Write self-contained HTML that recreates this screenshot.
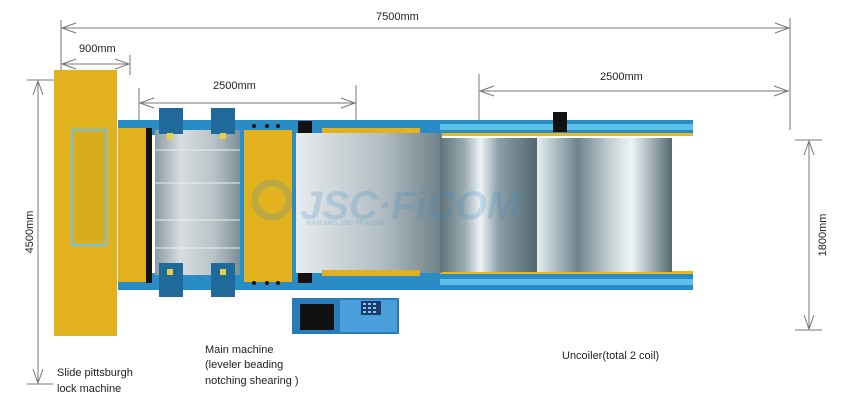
<!DOCTYPE html>
<html><head><meta charset="utf-8"><style>
html,body{margin:0;padding:0;background:#fff;}
svg{display:block;font-family:"Liberation Sans",sans-serif;}
</style></head><body>
<svg width="850" height="402" viewBox="0 0 850 402" xmlns="http://www.w3.org/2000/svg">
<defs>
<linearGradient id="lev" x1="0" x2="1" y1="0" y2="0">
<stop offset="0" stop-color="#8a9aa2"/><stop offset="0.3" stop-color="#d8dee0"/><stop offset="0.7" stop-color="#b8c2c6"/><stop offset="1" stop-color="#7e8e96"/></linearGradient>
<linearGradient id="plate" x1="0" x2="1" y1="0" y2="0">
<stop offset="0" stop-color="#e8ecee"/><stop offset="0.6" stop-color="#b0bcc2"/><stop offset="1" stop-color="#6e8088"/></linearGradient>
<linearGradient id="coil" x1="0" x2="1" y1="0" y2="0">
<stop offset="0" stop-color="#5e727a"/><stop offset="0.25" stop-color="#9aaab0"/><stop offset="0.42" stop-color="#eef4f6"/><stop offset="0.6" stop-color="#8da0a8"/><stop offset="1" stop-color="#52666e"/></linearGradient>
<linearGradient id="coil2" x1="0" x2="1" y1="0" y2="0">
<stop offset="0" stop-color="#e6eef0"/><stop offset="0.3" stop-color="#6e848c"/><stop offset="0.55" stop-color="#c6d2d6"/><stop offset="0.7" stop-color="#eef4f6"/><stop offset="1" stop-color="#566a72"/></linearGradient>
</defs>
<g stroke="#777" stroke-width="1" fill="none">
<line x1="61" y1="28" x2="790" y2="28"/><line x1="61" y1="20" x2="61" y2="75"/><line x1="790" y1="18" x2="790" y2="130"/>
<polyline points="76,23 62,28 76,33"/><polyline points="775,23 789,28 775,33"/>
<line x1="61" y1="64" x2="130" y2="64"/><line x1="130" y1="55" x2="130" y2="75"/>
<polyline points="76,59 62,64 76,69"/><polyline points="115,59 129,64 115,69"/>
<line x1="139" y1="103" x2="356" y2="103"/><line x1="139" y1="88" x2="139" y2="130"/><line x1="356" y1="85" x2="356" y2="128"/>
<polyline points="154,98 140,103 154,108"/><polyline points="341,98 355,103 341,108"/>
<line x1="479" y1="91" x2="789" y2="91"/><line x1="479" y1="74" x2="479" y2="130"/>
<polyline points="494,86 480,91 494,96"/><polyline points="774,86 788,91 774,96"/>
<line x1="38" y1="80" x2="38" y2="383"/><line x1="27" y1="80" x2="55" y2="80"/><line x1="27" y1="384" x2="53" y2="384"/>
<polyline points="33,95 38,81 43,95"/><polyline points="33,369 38,383 43,369"/>
<line x1="809" y1="140" x2="809" y2="330"/><line x1="795" y1="140" x2="822" y2="140"/><line x1="795" y1="330" x2="822" y2="330"/>
<polyline points="804,155 809,141 814,155"/><polyline points="804,315 809,329 814,315"/>
</g>
<g font-size="11" fill="#222">
<text x="376" y="20">7500mm</text>
<text x="79" y="52">900mm</text>
<text x="213" y="89">2500mm</text>
<text x="600" y="80">2500mm</text>
<text transform="translate(33,232) rotate(-90)" text-anchor="middle">4500mm</text>
<text transform="translate(826,235) rotate(-90)" text-anchor="middle">1800mm</text>
<text x="57" y="376">Slide  pittsburgh</text>
<text x="57" y="392">lock machine</text>
<text x="205" y="353">Main machine</text>
<text x="205" y="368">(leveler beading</text>
<text x="205" y="384">notching shearing )</text>
<text x="562" y="359">Uncoiler(total 2 coil)</text>
</g>
<rect x="118" y="120" width="575" height="15" fill="#2a8cc4"/>
<rect x="118" y="273" width="575" height="17" fill="#2a8cc4"/>
<rect x="440" y="124" width="253" height="6" fill="#5cc0ea"/>
<rect x="440" y="279" width="253" height="6" fill="#5cc0ea"/>
<rect x="440" y="133" width="253" height="3" fill="#e8b820"/>
<rect x="440" y="271" width="253" height="3" fill="#e8b820"/>
<rect x="54" y="70" width="63" height="266" fill="#e2b21e"/>
<rect x="72" y="130" width="34" height="115" fill="#d8ac1c" stroke="#6cc4ea" stroke-width="2"/>
<rect x="118" y="128" width="29" height="154" fill="#e2b21e"/>
<rect x="146" y="128" width="6" height="155" fill="#111"/>
<rect x="155" y="130" width="85" height="145" fill="url(#lev)"/>
<g stroke="#e8eef0" stroke-width="1"><line x1="155" y1="150" x2="240" y2="150"/><line x1="155" y1="183" x2="240" y2="183"/><line x1="155" y1="220" x2="240" y2="220"/><line x1="155" y1="248" x2="240" y2="248"/></g>
<rect x="159" y="108" width="24" height="26" fill="#1f6a9a"/><rect x="211" y="108" width="24" height="26" fill="#1f6a9a"/>
<rect x="159" y="263" width="24" height="34" fill="#1f6a9a"/><rect x="211" y="263" width="24" height="34" fill="#1f6a9a"/>
<rect x="167" y="133" width="6" height="6" fill="#e8d040"/><rect x="220" y="133" width="6" height="6" fill="#e8d040"/>
<rect x="167" y="269" width="6" height="6" fill="#e8d040"/><rect x="220" y="269" width="6" height="6" fill="#e8d040"/>
<rect x="240" y="125" width="56" height="160" fill="#2a8cc4"/>
<rect x="244" y="130" width="48" height="152" fill="#e2b21e"/>
<g fill="#111"><circle cx="254" cy="126" r="2"/><circle cx="267" cy="126" r="2"/><circle cx="278" cy="126" r="2"/><circle cx="254" cy="283" r="2"/><circle cx="267" cy="283" r="2"/><circle cx="278" cy="283" r="2"/></g>
<rect x="298" y="121" width="14" height="12" fill="#111"/><rect x="298" y="271" width="14" height="12" fill="#111"/>
<rect x="296" y="133" width="146" height="140" fill="url(#plate)"/>
<rect x="322" y="128" width="98" height="5" fill="#e2b21e"/>
<rect x="322" y="270" width="98" height="6" fill="#e2b21e"/>
<rect x="440" y="138" width="97" height="134" fill="url(#coil)"/>
<rect x="537" y="138" width="135" height="134" fill="url(#coil2)"/>
<rect x="553" y="112" width="14" height="20" fill="#111"/>
<g fill="#3a8cc8" opacity="0.22" font-weight="bold">
<circle cx="272" cy="200" r="17" fill="none" stroke="#3a8cc8" stroke-width="7"/>
<text x="300" y="219" font-size="40" font-style="italic">JSC·FiCOM</text>
<text x="306" y="225" font-size="7" font-style="italic">NANJING JSC TRADING</text>
</g>
<rect x="292" y="298" width="107" height="36" fill="#2a7cb8"/>
<rect x="340" y="300" width="57" height="32" fill="#4aa0dc"/>
<rect x="300" y="304" width="34" height="26" fill="#111"/>
<rect x="361" y="301" width="20" height="14" fill="#1a3a6a"/>
<g fill="#8ac0ec"><rect x="363" y="303" width="3" height="2"/><rect x="368" y="303" width="3" height="2"/><rect x="373" y="303" width="3" height="2"/><rect x="363" y="307" width="3" height="2"/><rect x="368" y="307" width="3" height="2"/><rect x="373" y="307" width="3" height="2"/><rect x="363" y="311" width="3" height="2"/><rect x="368" y="311" width="3" height="2"/><rect x="373" y="311" width="3" height="2"/></g>
</svg>
</body></html>
